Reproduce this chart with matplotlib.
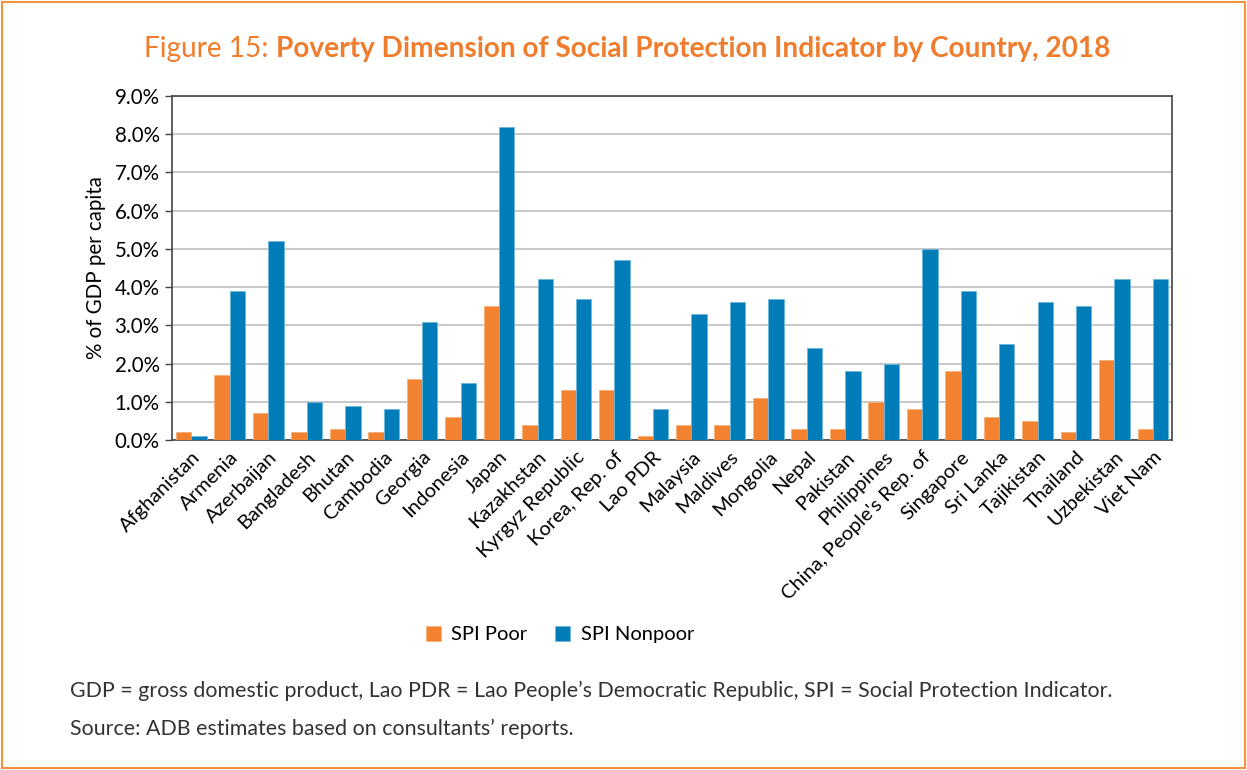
import matplotlib
matplotlib.use("Agg")
import matplotlib.pyplot as plt
import numpy as np
from matplotlib.ticker import FuncFormatter
from matplotlib.patches import Rectangle

plt.rcParams['font.family'] = ['Lato', 'DejaVu Sans']

countries = ["Afghanistan", "Armenia", "Azerbaijan", "Bangladesh", "Bhutan", "Cambodia",
             "Georgia", "Indonesia", "Japan", "Kazakhstan", "Kyrgyz Republic", "Korea, Rep. of",
             "Lao PDR", "Malaysia", "Maldives", "Mongolia", "Nepal", "Pakistan", "Philippines",
             "China, People's Rep. of", "Singapore", "Sri Lanka", "Tajikistan", "Thailand",
             "Uzbekistan", "Viet Nam"]
spi_poor = [0.2, 1.7, 0.7, 0.2, 0.3, 0.2, 1.6, 0.6, 3.5, 0.4, 1.3, 1.3,
            0.1, 0.4, 0.4, 1.1, 0.3, 0.3, 1.0, 0.8, 1.8, 0.6, 0.5, 0.2, 2.1, 0.3]
spi_nonpoor = [0.1, 3.9, 5.2, 1.0, 0.9, 0.8, 3.1, 1.5, 8.2, 4.2, 3.7, 4.7,
               0.8, 3.3, 3.6, 3.7, 2.4, 1.8, 2.0, 5.0, 3.9, 2.5, 3.6, 3.5, 4.2, 4.2]
y_ticks = np.arange(0, 9.01, 1.0)

ORANGE = "#F28130"
BLUE = "#007DB8"
TITLE = "#F07D2D"

fig = plt.figure(figsize=(12.47, 7.70), dpi=100)
fig.patch.set_facecolor("white")

# frame around the whole figure
fig.add_artist(Rectangle((0.0015, 0.002), 0.997, 0.995, transform=fig.transFigure,
                         fill=False, edgecolor="#F5923E", linewidth=1.5))

ax = fig.add_axes([0.138, 0.4286, 0.802, 0.4467])
x = np.arange(len(countries))
w = 0.4
ax.bar(x - w / 2, spi_poor, w, color=ORANGE, edgecolor="#F8B07A", linewidth=0.6,
       label="SPI Poor", zorder=3)
ax.bar(x + w / 2, spi_nonpoor, w, color=BLUE, edgecolor="#6DB8DD", linewidth=0.6,
       label="SPI Nonpoor", zorder=3)

ax.set_xlim(-0.5, len(countries) - 0.5)
ax.set_ylim(0, 9.0)
ax.set_yticks(y_ticks)
ax.yaxis.set_major_formatter(FuncFormatter(lambda v, p: f"{v:.1f}%"))
ax.grid(axis="y", color="#C4C4C4", linewidth=1.3, zorder=0)
ax.set_axisbelow(True)
ax.set_xticks(x)
ax.set_xticklabels(countries, rotation=45, ha="right", rotation_mode="anchor", fontsize=14.5)
ax.tick_params(axis="x", length=0, pad=6)
ax.tick_params(axis="y", length=5, width=1, color="#444444", labelsize=14.8, pad=4)
for s in ax.spines.values():
    s.set_color("#444444")
    s.set_linewidth(1.2)
ax.set_ylabel("% of GDP per capita", fontsize=14.8, labelpad=6)

t1 = fig.text(0.1155, 0.937, "Figure 15: ", color=TITLE, fontsize=20.2, ha="left", va="center")
fig.canvas.draw()
bb = t1.get_window_extent()
fig.text(bb.x1 / fig.bbox.width, 0.937, "Poverty Dimension of Social Protection Indicator by Country, 2018",
         color=TITLE, fontsize=20.2, fontweight="bold", ha="left", va="center")

fig.legend(handles=ax.get_legend_handles_labels()[0], labels=["SPI Poor", "SPI Nonpoor"],
           loc="center", bbox_to_anchor=(0.449, 0.176), ncol=2, frameon=False,
           fontsize=14.5, handlelength=0.75, handleheight=0.75, columnspacing=1.4, handletextpad=0.5)

fig.text(0.056, 0.103, "GDP = gross domestic product, Lao PDR = Lao People\u2019s Democratic Republic, SPI = Social Protection Indicator.",
         fontsize=15.4, color="#333333", va="center")
fig.text(0.056, 0.053, "Source: ADB estimates based on consultants\u2019 reports.",
         fontsize=15.4, color="#333333", va="center")

fig.savefig("out.png", dpi=100, facecolor="white")
